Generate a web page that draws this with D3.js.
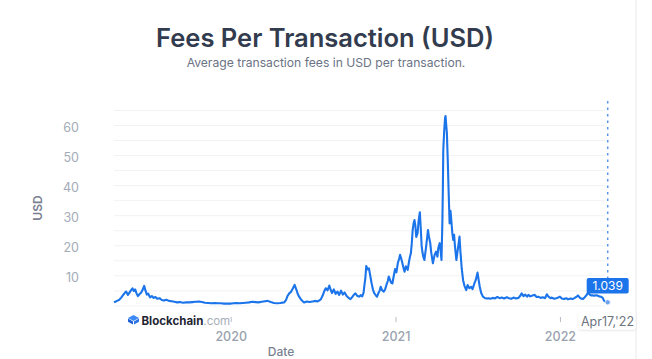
<!DOCTYPE html>
<html>
<head>
<meta charset="utf-8">
<script src="https://cdn.jsdelivr.net/npm/d3@7"></script>
<style>
  html, body { margin: 0; padding: 0; background: #fff; }
  svg { display: block; font-family: Inter, "Noto Sans", sans-serif; }
</style>
</head>
<body>
<svg id="chart" width="652" height="359"></svg>
<script>
// ---- data ----
const title = "Fees Per Transaction (USD)";
const subtitle = "Average transaction fees in USD per transaction.";
const yTickValues = [10, 20, 30, 40, 50, 60];
const yGridValues = [0, 5, 10, 15, 20, 25, 30, 35, 40, 45, 50, 55, 60, 65];
const xTickYears = ["2020-01-01", "2021-01-01", "2022-01-01"];
const lastLabel = "1.039";
const lastDateLabel = "Apr17,'22";

const dates2019 = ["2019-04-17","2019-04-21","2019-04-25","2019-04-29","2019-05-03","2019-05-07","2019-05-11","2019-05-14","2019-05-18","2019-05-22","2019-05-25","2019-05-28","2019-05-31","2019-06-03","2019-06-06","2019-06-09","2019-06-13","2019-06-16","2019-06-19","2019-06-23","2019-06-26","2019-06-29","2019-07-02","2019-07-06","2019-07-10","2019-07-14","2019-07-18","2019-07-22","2019-07-27","2019-08-01","2019-08-06","2019-08-11","2019-08-17","2019-08-23","2019-08-29","2019-09-04","2019-09-10","2019-09-17","2019-09-24","2019-10-01","2019-10-08","2019-10-15","2019-10-22","2019-10-29","2019-11-05","2019-11-12","2019-11-19","2019-11-26","2019-12-03","2019-12-10","2019-12-17","2019-12-24","2019-12-31"];
const fees2019 = [1.0,1.3,1.6,1.9,2.6,3.4,4.2,4.6,3.5,4.4,5.1,5.7,4.8,5.3,4.0,3.1,3.8,4.2,5.0,6.5,4.9,3.6,3.9,2.7,3.1,2.5,2.8,2.2,2.4,1.8,1.6,1.9,1.5,1.4,1.2,1.0,1.1,0.9,1.0,1.0,1.1,1.2,1.3,1.1,0.9,0.8,0.7,0.8,0.7,0.7,0.6,0.6,0.6];

const dates2020 = ["2020-01-07","2020-01-14","2020-01-21","2020-01-28","2020-02-04","2020-02-11","2020-02-18","2020-02-25","2020-03-03","2020-03-10","2020-03-17","2020-03-23","2020-03-30","2020-04-06","2020-04-13","2020-04-20","2020-04-29","2020-05-03","2020-05-06","2020-05-10","2020-05-14","2020-05-18","2020-05-22","2020-05-26","2020-05-29","2020-06-01","2020-06-05","2020-06-09","2020-06-12","2020-06-18","2020-06-24","2020-07-01","2020-07-08","2020-07-12","2020-07-16","2020-07-19","2020-07-23","2020-07-27","2020-07-30","2020-08-03","2020-08-07","2020-08-10","2020-08-13","2020-08-17","2020-08-21","2020-08-25","2020-08-29","2020-09-02","2020-09-06","2020-09-10","2020-09-14","2020-09-18","2020-09-23","2020-09-27","2020-10-01","2020-10-04","2020-10-08","2020-10-12","2020-10-16","2020-10-19","2020-10-22","2020-10-24","2020-10-26","2020-10-28","2020-10-31","2020-11-03","2020-11-06","2020-11-09","2020-11-12","2020-11-15","2020-11-18","2020-11-21","2020-11-24","2020-11-27","2020-11-29","2020-12-02","2020-12-06","2020-12-09","2020-12-12","2020-12-15","2020-12-17","2020-12-20","2020-12-22","2020-12-25","2020-12-28","2020-12-31"];
const fees2020 = [0.7,0.8,0.7,0.8,0.9,1.0,1.2,1.1,1.0,1.2,1.4,1.5,1.1,0.8,0.7,0.8,1.0,1.8,3.1,4.0,4.5,5.6,6.8,5.2,3.8,2.9,2.0,1.4,1.0,1.3,1.1,1.3,1.5,1.3,1.7,2.0,3.2,4.8,5.7,5.0,6.6,5.2,4.1,5.3,3.8,4.6,3.5,4.9,3.6,4.3,3.2,2.6,2.1,2.8,3.6,4.0,3.2,2.9,3.4,3.0,4.2,6.8,9.1,13.1,12.0,12.3,9.8,7.3,5.2,4.0,3.4,2.9,4.1,5.0,6.2,5.1,4.6,5.4,6.9,8.2,9.6,8.4,7.6,7.3,9.8,12.1];

const dates2021 = ["2021-01-03","2021-01-06","2021-01-09","2021-01-11","2021-01-13","2021-01-16","2021-01-19","2021-01-21","2021-01-24","2021-01-26","2021-01-28","2021-01-31","2021-02-02","2021-02-04","2021-02-06","2021-02-08","2021-02-10","2021-02-12","2021-02-14","2021-02-16","2021-02-19","2021-02-21","2021-02-24","2021-02-26","2021-02-28","2021-03-02","2021-03-04","2021-03-06","2021-03-09","2021-03-12","2021-03-14","2021-03-16","2021-03-19","2021-03-21","2021-03-23","2021-03-25","2021-03-27","2021-03-29","2021-04-01","2021-04-04","2021-04-06","2021-04-09","2021-04-11","2021-04-13","2021-04-15","2021-04-16","2021-04-17","2021-04-19","2021-04-21","2021-04-22","2021-04-23","2021-04-25","2021-04-27","2021-04-29","2021-05-01","2021-05-03","2021-05-05","2021-05-07","2021-05-09","2021-05-11","2021-05-13","2021-05-16","2021-05-18","2021-05-20","2021-05-23","2021-05-25","2021-05-28","2021-05-31","2021-06-03","2021-06-07","2021-06-10","2021-06-14","2021-06-18","2021-06-21","2021-06-25","2021-06-28","2021-07-02","2021-07-05","2021-07-07","2021-07-10","2021-07-14","2021-07-18","2021-07-22","2021-07-26","2021-07-31","2021-08-05","2021-08-10","2021-08-15","2021-08-20","2021-08-25","2021-08-30","2021-09-05","2021-09-10","2021-09-15","2021-09-20","2021-09-25","2021-10-01","2021-10-05","2021-10-08","2021-10-12","2021-10-16","2021-10-20","2021-10-23","2021-10-27","2021-11-01","2021-11-06","2021-11-10","2021-11-14","2021-11-19","2021-11-24","2021-11-29","2021-12-03","2021-12-07","2021-12-11","2021-12-14","2021-12-19","2021-12-24","2021-12-28"];
const fees2021 = [11.0,14.0,15.5,16.8,15.9,14.2,12.3,11.2,13.0,12.5,11.8,14.6,16.2,17.3,20.5,25.0,27.2,28.4,26.5,22.8,24.0,27.9,31.0,25.6,19.8,17.4,16.0,15.1,18.5,22.3,25.1,23.0,20.8,17.9,15.8,14.0,15.6,16.9,17.9,16.2,19.1,20.7,18.4,15.1,28.0,38.0,51.7,58.0,62.5,63.0,61.0,57.3,48.0,37.3,27.3,31.5,28.0,24.2,21.8,23.5,19.6,15.1,17.2,19.5,22.9,18.0,12.2,8.4,6.5,5.1,6.8,5.7,6.2,5.4,7.3,8.4,10.9,8.0,6.2,4.2,2.9,2.5,2.3,2.4,2.2,2.5,2.3,2.8,2.4,2.6,2.3,2.7,2.4,2.2,2.6,2.3,2.5,3.2,4.0,3.1,3.6,2.9,3.5,3.0,3.3,3.5,2.8,2.9,2.5,2.7,2.4,3.7,2.8,2.4,2.6,2.2,2.4,2.6];

const dates2022 = ["2022-01-01","2022-01-05","2022-01-10","2022-01-15","2022-01-19","2022-01-24","2022-01-29","2022-02-03","2022-02-07","2022-02-10","2022-02-14","2022-02-18","2022-02-21","2022-02-25","2022-03-01","2022-03-04","2022-03-08","2022-03-11","2022-03-14","2022-03-18","2022-03-22","2022-03-25","2022-03-29","2022-04-02","2022-04-06","2022-04-09","2022-04-13","2022-04-17"];
const fees2022 = [2.9,2.3,2.1,2.4,2.0,2.3,2.1,2.5,2.9,3.3,2.6,2.2,2.1,2.7,3.4,4.3,3.6,3.3,3.4,3.2,3.4,3.3,3.0,2.9,2.5,1.5,1.2,1.039];

// ---- build ----
const parse = d3.timeParse("%Y-%m-%d");
const allDates = [...dates2019, ...dates2020, ...dates2021, ...dates2022];
const allFees = [...fees2019, ...fees2020, ...fees2021, ...fees2022];
const data = allDates.map((d, i) => ({ date: parse(d), value: allFees[i] }));

const svg = d3.select("#chart");
const W = 652, H = 359;
const plotLeft = 114, plotRight = 605, dataRight = 607.7;
const yTop = 110, yBottom = 305.4;

const x = d3.scaleTime()
  .domain([parse("2019-04-17"), parse("2022-04-17")])
  .range([plotLeft, dataRight]);
const y = d3.scaleLinear().domain([0, 65]).range([yBottom, yTop]);

// page border line on the right
svg.append("line")
  .attr("x1", 636).attr("x2", 636).attr("y1", 0).attr("y2", H)
  .attr("stroke", "#e8eaee").attr("stroke-width", 1);

function fitText(sel, width) {
  const node = sel.node();
  const fs = parseFloat(sel.attr("font-size"));
  const len = node.getComputedTextLength();
  if (len > 0) sel.attr("font-size", (fs * width / len).toFixed(2));
}

// title
const t = svg.append("text").text(title)
  .attr("x", 325).attr("y", 47).attr("text-anchor", "middle")
  .attr("font-size", 30).attr("font-weight", 600).attr("fill", "#323c4e");
fitText(t, 338);
const st = svg.append("text").text(subtitle)
  .attr("x", 326).attr("y", 67).attr("text-anchor", "middle")
  .attr("font-size", 13).attr("fill", "#6b7384");
fitText(st, 279);

// gridlines
const grid = svg.append("g").attr("transform", `translate(${plotLeft},0)`)
  .call(d3.axisLeft(y).tickValues(yGridValues).tickSize(-(plotRight - plotLeft)).tickFormat(""));
grid.select(".domain").remove();
grid.selectAll(".tick line").attr("stroke", "#f0f2f5").attr("stroke-width", 1);

// y labels
const yAx = svg.append("g").attr("transform", `translate(${plotLeft},2)`)
  .call(d3.axisLeft(y).tickValues(yTickValues).tickSize(0).tickPadding(35).tickFormat(d3.format("d")));
yAx.select(".domain").remove();
yAx.selectAll("text").attr("font-size", 12.5).attr("fill", "#a3abb8")
  .attr("font-family", "Inter, 'Noto Sans', sans-serif");

// y title
svg.append("text").text("USD")
  .attr("transform", "translate(42,208) rotate(-90)")
  .attr("text-anchor", "middle").attr("font-size", 12).attr("font-weight", 600)
  .attr("fill", "#7a8292");

// x axis
const xAx = svg.append("g").attr("transform", "translate(0,317)")
  .call(d3.axisBottom(x).tickValues(xTickYears.map(parse)).tickSize(5).tickPadding(10)
    .tickFormat(d3.timeFormat("%Y")));
xAx.select(".domain").remove();
xAx.selectAll(".tick line").attr("stroke", "#b5bcc6");
xAx.selectAll("text").attr("font-size", 12.5).attr("font-weight", 500).attr("fill", "#9aa2af")
  .attr("font-family", "Inter, 'Noto Sans', sans-serif");

svg.append("text").text("Date")
  .attr("x", 281).attr("y", 356).attr("text-anchor", "middle")
  .attr("font-size", 12).attr("font-weight", 500).attr("fill", "#7a8292");

// Blockchain.com logo
const logo = svg.append("g").attr("transform", "translate(128,315)");
logo.append("path").attr("d", "M5.5,0 L11,3 L5.5,6 L0,3 Z").attr("fill", "#3d89f5");
logo.append("path").attr("d", "M0,3.6 L5,6.4 L5,9.5 L0,6.7 Z").attr("fill", "#1d5fd6");
logo.append("path").attr("d", "M11,3.6 L6,6.4 L6,9.5 L11,6.7 Z").attr("fill", "#2a72e8");
const bt = logo.append("text").attr("x", 13.5).attr("y", 9.5)
  .attr("font-size", 11.5).attr("font-weight", 700).attr("fill", "#1f2533");
bt.append("tspan").text("Blockchain");
bt.append("tspan").text(".com").attr("font-weight", 400).attr("fill", "#a8aeb8");

// line
const line = d3.line().x(d => x(d.date)).y(d => y(d.value));
svg.append("path").datum(data)
  .attr("d", line).attr("fill", "none")
  .attr("stroke", "#1b74ea").attr("stroke-width", 2.1).attr("stroke-linejoin", "round");

// crosshair
const last = data[data.length - 1];
const lx = x(last.date), ly = y(last.value);
svg.append("line").attr("x1", lx).attr("x2", lx).attr("y1", 101).attr("y2", 278)
  .attr("stroke", "#5a95ec").attr("stroke-width", 1.5).attr("stroke-dasharray", "2.5,4");

// value tooltip
svg.append("rect").attr("x", lx - 21).attr("y", 278).attr("width", 42).attr("height", 15.5)
  .attr("rx", 2).attr("fill", "#1b74ea");
svg.append("text").text(lastLabel).attr("x", lx).attr("y", 290)
  .attr("text-anchor", "middle").attr("font-size", 12).attr("fill", "#fff");

svg.append("circle").attr("cx", lx).attr("cy", ly).attr("r", 2.6)
  .attr("fill", "#6ea3ee").attr("stroke", "#fff").attr("stroke-width", 0.8);

// date tooltip
const defs = svg.append("defs");
const f = defs.append("filter").attr("id", "sh").attr("x", "-20%").attr("y", "-30%").attr("width", "140%").attr("height", "160%");
f.append("feDropShadow").attr("dx", 0).attr("dy", 1).attr("stdDeviation", 1.2).attr("flood-color", "#000").attr("flood-opacity", 0.12);
svg.append("rect").attr("x", 578.5).attr("y", 312.5).attr("width", 57).attr("height", 17)
  .attr("rx", 2).attr("fill", "#fff").attr("filter", "url(#sh)");
svg.append("text").text(lastDateLabel).attr("x", 607.5).attr("y", 325.5)
  .attr("text-anchor", "middle").attr("font-size", 12.5).attr("fill", "#6d737d");
</script>
</body>
</html>
